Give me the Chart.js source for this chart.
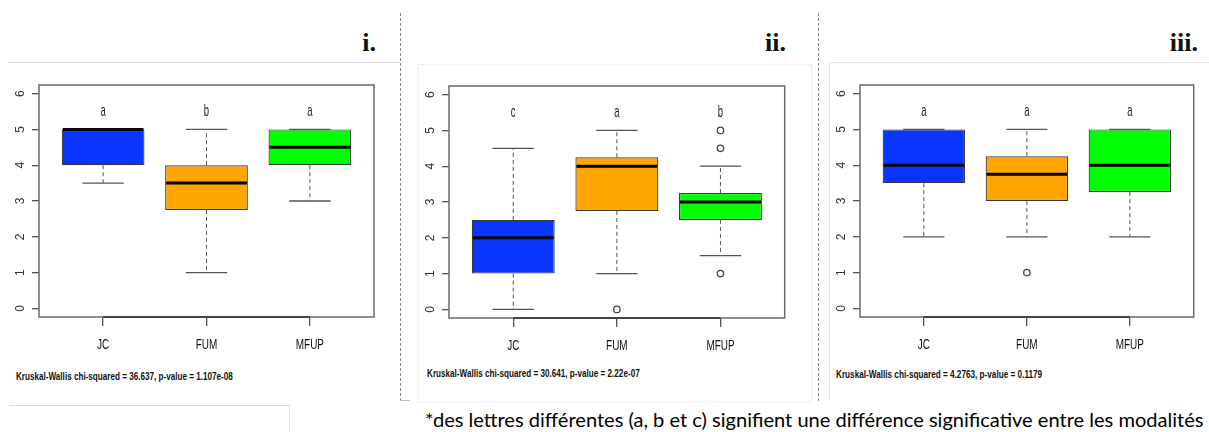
<!DOCTYPE html>
<html>
<head>
<meta charset="utf-8">
<script src="https://cdn.jsdelivr.net/npm/chart.js@4/dist/chart.umd.min.js"></script>
<style>
  body { margin: 0; background: #fff; }
  #page { position: relative; width: 1209px; height: 432px; overflow: hidden; background: #fff; }
  .wrap { position: absolute; }
  .line { position: absolute; }
  .tag { position: absolute; font-family: 'Liberation Serif', 'DejaVu Serif', serif; font-weight: bold; font-size: 26px; line-height: 26px; color: #111; }
  .kw { position: absolute; font-family: 'Liberation Sans', Arial, sans-serif; font-weight: bold; font-size: 11px; line-height: 11px; color: #111; white-space: nowrap; transform-origin: left center; }
  #note { position: absolute; left: 425px; top: 409px; font-family: Lato, 'Open Sans', sans-serif; font-size: 20px; line-height: 20px; color: #000; white-space: nowrap; transform-origin: left center; }
</style>
</head>
<body>
<div id="page">
  <!-- frames and separators copied from the slide -->
  <div class="line" style="left:9px;top:62px;width:391px;border-top:1px solid #dcdcdc"></div>
  <div class="line" style="left:9px;top:405px;width:280px;border-top:1px solid #dcdcdc"></div>
  <div class="line" style="left:289px;top:405px;height:27px;border-left:1px solid #dcdcdc"></div>
  <div class="line" style="left:400px;top:13px;height:388px;border-left:1px dashed #8a8a8a"></div>
  <div class="line" style="left:400px;top:400px;width:10px;border-top:1px solid #bbb"></div>
  <div class="line" style="left:418px;top:64px;width:392px;height:336px;border:1px solid #efefef"></div>
  <div class="line" style="left:818px;top:13px;height:388px;border-left:1px dashed #8a8a8a"></div>
  <div class="line" style="left:829px;top:62px;width:380px;border-top:1px solid #e4e4e4"></div>
  <div class="line" style="left:829px;top:62px;height:338px;border-left:1px solid #e4e4e4"></div>

  <div class="tag" style="right:833px;top:30px">i.</div>
  <div class="tag" style="right:423px;top:30px">ii.</div>
  <div class="tag" style="right:11px;top:30px">iii.</div>

  <div class="wrap" id="w1"><canvas id="c1"></canvas></div>
  <div class="wrap" id="w2"><canvas id="c2"></canvas></div>
  <div class="wrap" id="w3"><canvas id="c3"></canvas></div>

  <span class="kw" id="k1" style="left:16px;top:371px"></span>
  <span class="kw" id="k2" style="left:427px;top:368px"></span>
  <span class="kw" id="k3" style="left:836px;top:369px"></span>

  <span id="note">*des lettres différentes (a, b et c) signifient une différence significative entre les modalités</span>
</div>
<script>
// groups and y axis
const groups = ['JC', 'FUM', 'MFUP'];
const yTicks = [0, 1, 2, 3, 4, 5, 6];
const boxColors = ['#0a35ff', '#ffa500', '#00ff00'];

// panel i
const lowI = [3.5, 1, 3];
const q1I = [4, 2.75, 4];
const medI = [5, 3.5, 4.5];
const q3I = [5, 4, 5];
const highI = [5, 5, 5];
const outGroupI = [];
const outValueI = [];
const lettersI = ['a', 'b', 'a'];
const kwI = 'Kruskal-Wallis chi-squared = 36.637, p-value = 1.107e-08';

// panel ii
const lowII = [0, 1, 1.5];
const q1II = [1, 2.75, 2.5];
const medII = [2, 4, 3];
const q3II = [2.5, 4.25, 3.25];
const highII = [4.5, 5, 4];
const outGroupII = [2, 3, 3, 3];
const outValueII = [0, 5, 4.5, 1];
const lettersII = ['c', 'a', 'b'];
const kwII = 'Kruskal-Wallis chi-squared = 30.641, p-value = 2.22e-07';

// panel iii
const lowIII = [2, 2, 2];
const q1III = [3.5, 3, 3.25];
const medIII = [4, 3.75, 4];
const q3III = [5, 4.25, 5];
const highIII = [5, 5, 5];
const outGroupIII = [2];
const outValueIII = [1];
const lettersIII = ['a', 'a', 'a'];
const kwIII = 'Kruskal-Wallis chi-squared = 4.2763, p-value = 0.1179';

const letterY = 5.5;
const sans = "'Liberation Sans', Arial, sans-serif";

// text squeezed sideways, like the stretched R export
function squeezedText(ctx, txt, x, y, sx) {
    ctx.save();
    ctx.translate(x, y);
    ctx.scale(sx, 1);
    ctx.fillText(txt, 0, 0);
    ctx.restore();
}

// whiskers, caps, medians, letters, frame and axis labels (R style)
const boxParts = {
    id: 'boxParts',
    afterDatasetsDraw(chart, args, o) {
        const ctx = chart.ctx;
        const xs = chart.scales.x, ys = chart.scales.y;
        const a = chart.chartArea;
        ctx.save();
        for (let i = 0; i < groups.length; i++) {
            const g = i + 1;
            const cx = xs.getPixelForValue(g);
            ctx.strokeStyle = '#555';
            ctx.lineWidth = 1;
            ctx.setLineDash([4, 3]);
            ctx.beginPath();
            ctx.moveTo(cx, ys.getPixelForValue(o.q3[i]));
            ctx.lineTo(cx, ys.getPixelForValue(o.high[i]));
            ctx.moveTo(cx, ys.getPixelForValue(o.q1[i]));
            ctx.lineTo(cx, ys.getPixelForValue(o.low[i]));
            ctx.stroke();
            ctx.setLineDash([]);
            ctx.lineWidth = 1.3;
            ctx.beginPath();
            [o.high[i], o.low[i]].forEach(v => {
                const py = ys.getPixelForValue(v);
                ctx.moveTo(xs.getPixelForValue(g - 0.2), py);
                ctx.lineTo(xs.getPixelForValue(g + 0.2), py);
            });
            ctx.stroke();
            // median
            ctx.strokeStyle = '#000';
            ctx.lineWidth = 3;
            ctx.beginPath();
            const my = ys.getPixelForValue(o.med[i]);
            ctx.moveTo(xs.getPixelForValue(g - 0.4) + 1, my);
            ctx.lineTo(xs.getPixelForValue(g + 0.4) - 1, my);
            ctx.stroke();
            // letter
            ctx.fillStyle = '#222';
            ctx.font = '17px ' + sans;
            ctx.textAlign = 'center';
            ctx.textBaseline = 'middle';
            squeezedText(ctx, o.letters[i], cx, ys.getPixelForValue(letterY), 0.56);
        }
        // frame
        ctx.strokeStyle = '#6a6a6a';
        ctx.lineWidth = 1.5;
        ctx.strokeRect(a.left, a.top, a.right - a.left, a.bottom - a.top);
        // x axis line between first and last group
        ctx.strokeStyle = '#444';
        ctx.lineWidth = 2;
        ctx.beginPath();
        ctx.moveTo(xs.getPixelForValue(1), a.bottom);
        ctx.lineTo(xs.getPixelForValue(groups.length), a.bottom);
        ctx.stroke();
        // x labels
        ctx.fillStyle = '#111';
        ctx.font = '14px ' + sans;
        ctx.textAlign = 'center';
        ctx.textBaseline = 'middle';
        xs.ticks.forEach((t, i) => {
            squeezedText(ctx, groups[i], xs.getPixelForValue(t.value), a.bottom + 28, 0.71);
        });
        // rotated y labels
        ctx.fillStyle = '#333';
        ctx.font = '12px ' + sans;
        ys.ticks.forEach(t => {
            ctx.save();
            ctx.translate(a.left - 18, ys.getPixelForValue(t.value));
            ctx.rotate(-Math.PI / 2);
            ctx.fillText(String(t.value), 0, 0);
            ctx.restore();
        });
        ctx.restore();
    }
};

function makePanel(id, wrapId, area, low, q1, med, q3, high, outG, outV, letters) {
    const wrap = document.getElementById(wrapId);
    wrap.style.left = (area.left - 40) + 'px';
    wrap.style.top = (area.top - 25) + 'px';
    wrap.style.width = (area.right - area.left + 45) + 'px';
    wrap.style.height = (area.bottom - area.top + 70) + 'px';

    new Chart(document.getElementById(id), {
        type: 'bar',
        data: {
            datasets: [{
                data: groups.map((g, i) => ({ x: i + 1, y: [q1[i], q3[i]] })),
                backgroundColor: boxColors,
                borderColor: '#3a3a3a',
                borderWidth: 1.2,
                borderSkipped: false,
                barPercentage: 0.8,
                categoryPercentage: 1
            }, {
                type: 'scatter',
                data: outG.map((g, i) => ({ x: g, y: outV[i] })),
                pointStyle: 'circle',
                pointRadius: 3.2,
                pointBorderColor: '#444',
                pointBackgroundColor: 'rgba(255,255,255,0)',
                pointBorderWidth: 1.3
            }]
        },
        options: {
            responsive: true,
            maintainAspectRatio: false,
            animation: false,
            layout: { padding: { top: 25, right: 5, left: 0, bottom: 0 } },
            plugins: {
                legend: { display: false },
                tooltip: { enabled: false },
                boxParts: { low: low, q1: q1, med: med, q3: q3, high: high, letters: letters }
            },
            scales: {
                x: {
                    type: 'linear',
                    min: 0.38,
                    max: 3.62,
                    offset: false,
                    afterBuildTicks: s => { s.ticks = groups.map((g, i) => ({ value: i + 1 })); },
                    afterFit: s => { s.height = 45; },
                    ticks: { display: false },
                    grid: { drawOnChartArea: false, offset: false, tickLength: 9, color: '#555', lineWidth: 1.3 },
                    border: { display: false }
                },
                y: {
                    min: -0.24,
                    max: 6.24,
                    beginAtZero: false,
                    afterBuildTicks: s => { s.ticks = yTicks.map(v => ({ value: v })); },
                    afterFit: s => { s.width = 40; },
                    ticks: { display: false },
                    grid: { drawOnChartArea: false, tickLength: 7, color: '#555', lineWidth: 1.3 },
                    border: { display: false }
                }
            }
        },
        plugins: [boxParts]
    });
}

makePanel('c1', 'w1', { left: 39, top: 85, right: 374, bottom: 317 }, lowI, q1I, medI, q3I, highI, outGroupI, outValueI, lettersI);
makePanel('c2', 'w2', { left: 449, top: 86, right: 785, bottom: 318 }, lowII, q1II, medII, q3II, highII, outGroupII, outValueII, lettersII);
makePanel('c3', 'w3', { left: 860, top: 85, right: 1194, bottom: 317 }, lowIII, q1III, medIII, q3III, highIII, outGroupIII, outValueIII, lettersIII);

document.getElementById('k1').textContent = kwI;
document.getElementById('k2').textContent = kwII;
document.getElementById('k3').textContent = kwIII;

// squeeze texts to the widths seen in the slide
function fitWidth(el, w) {
    el.style.display = 'inline-block';
    el.style.transform = 'scaleX(' + (w / el.offsetWidth) + ')';
}
fitWidth(document.getElementById('k1'), 217);
fitWidth(document.getElementById('k2'), 213);
fitWidth(document.getElementById('k3'), 206);
fitWidth(document.getElementById('note'), 778);
</script>
</body>
</html>
